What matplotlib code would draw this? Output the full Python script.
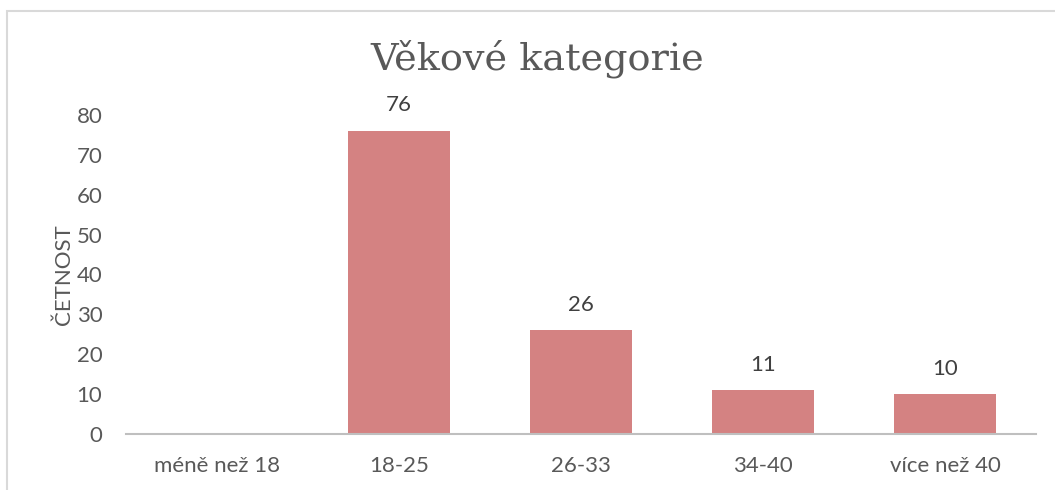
import matplotlib

matplotlib.use("Agg")
import matplotlib.pyplot as plt
from matplotlib.patches import Rectangle
import numpy as np

CATEGORIES = ["méně než 18", "18-25", "26-33", "34-40", "více než 40"]
COUNTS = [0, 76, 26, 11, 10]
Y_TICKS = [0, 10, 20, 30, 40, 50, 60, 70, 80]
TITLE = "Věkové kategorie"
Y_LABEL = "ČETNOST"

BAR_COLOR = "#d48282"
TEXT_GRAY = "#595959"

plt.rcParams["font.family"] = ["Lato", "DejaVu Sans"]

fig = plt.figure(figsize=(10.55, 4.9), dpi=100)
W, H = 1055, 490

# light chart border, cropped on right and bottom
fig.patches.append(Rectangle((7 / W, -0.05), 1.1, 1 - 11 / H + 0.05, transform=fig.transFigure,
                             fill=False, edgecolor="#d9d9d9", lw=1.5))

ax = fig.add_axes([126 / W, 1 - 434 / H, (1036 - 126) / W, (434 - 115) / H])
x = np.arange(len(CATEGORIES))
bars = ax.bar(x, COUNTS, width=0.555, color=BAR_COLOR)
for xi, v in zip(x, COUNTS):
    if v > 0:
        ax.text(xi, v + 6.4, str(v), ha="center", va="center", fontsize=16, color="#404040")

ax.set_xlim(-0.5, len(CATEGORIES) - 0.5)
ax.set_ylim(0, 80)
ax.set_yticks(Y_TICKS)
ax.set_xticks(x, CATEGORIES)
ax.tick_params(axis="both", length=0, labelsize=16, colors=TEXT_GRAY)
ax.tick_params(axis="y", pad=17)
ax.tick_params(axis="x", pad=16)
for side in ["top", "right", "left"]:
    ax.spines[side].set_visible(False)
ax.spines["bottom"].set_color("#bfbfbf")
ax.spines["bottom"].set_linewidth(1.5)
ax.set_ylabel(Y_LABEL, fontsize=16, color=TEXT_GRAY, labelpad=2)
ax.set_clip_on(False)

fig.text(537 / W, 1 - 59 / H, TITLE, ha="center", va="center", fontsize=27.5,
         color=TEXT_GRAY, family=["DejaVu Serif"])

fig.savefig("out.png", dpi=100)
